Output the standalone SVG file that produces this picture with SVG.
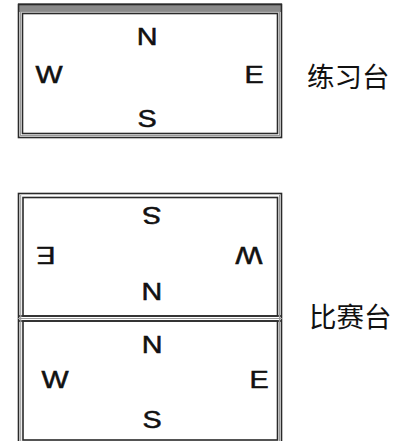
<svg xmlns="http://www.w3.org/2000/svg" width="404" height="441" viewBox="0 0 404 441">
<style>
.ln{fill:none;stroke:#2a2a2a;stroke-width:1.6}
.lt{fill:none;stroke:#999;stroke-width:1}
.d{font-family:"Liberation Sans",Arial,sans-serif;font-size:23px;fill:#111;stroke:#111;stroke-width:0.5;text-anchor:middle}
.cn{font-family:"Noto Sans CJK SC",sans-serif;font-size:27.5px;fill:#111}
</style>
<rect width="404" height="441" fill="#fff"/>
<g id="practice">
<rect x="18" y="3" width="264" height="9" fill="#8a8a8a"/>
<rect class="ln" x="18.5" y="4.5" width="263" height="133"/>
<rect class="ln" x="22.5" y="13.5" width="255" height="120"/>
<rect class="lt" x="20.5" y="12" width="259" height="123.5"/>
<text class="d" transform="translate(147,45) scale(1.25,1)">N</text>
<text class="d" transform="translate(49,83) scale(1.25,1)">W</text>
<text class="d" transform="translate(254,83) scale(1.25,1)">E</text>
<text class="d" transform="translate(147,127) scale(1.25,1)">S</text>
<text class="cn" x="307" y="87">练习台</text>
</g>
<g id="match">
<rect class="ln" x="18.5" y="193.5" width="263" height="260"/>
<rect class="ln" x="23" y="197.5" width="254.5" height="118.5"/>
<rect class="ln" x="23" y="321" width="254.5" height="119"/>
<line class="ln" x1="18" y1="316" x2="282" y2="316"/>
<line class="ln" x1="18" y1="321" x2="282" y2="321"/>
<line class="lt" x1="20.7" y1="195" x2="20.7" y2="441"/>
<line class="lt" x1="279.5" y1="195" x2="279.5" y2="441"/>
<line class="lt" x1="18" y1="318.5" x2="282" y2="318.5"/>
<text class="d" transform="translate(152,207) rotate(180) scale(1.25,1)">S</text>
<text class="d" transform="translate(46,247) rotate(180) scale(1.25,1)">E</text>
<text class="d" transform="translate(249,247) rotate(180) scale(1.25,1)">W</text>
<text class="d" transform="translate(152,283) rotate(180) scale(1.25,1)">N</text>
<text class="d" transform="translate(152,353) scale(1.25,1)">N</text>
<text class="d" transform="translate(55,388) scale(1.25,1)">W</text>
<text class="d" transform="translate(259,388) scale(1.25,1)">E</text>
<text class="d" transform="translate(152,428) scale(1.25,1)">S</text>
<text class="cn" x="309" y="327">比赛台</text>
</g>
</svg>
